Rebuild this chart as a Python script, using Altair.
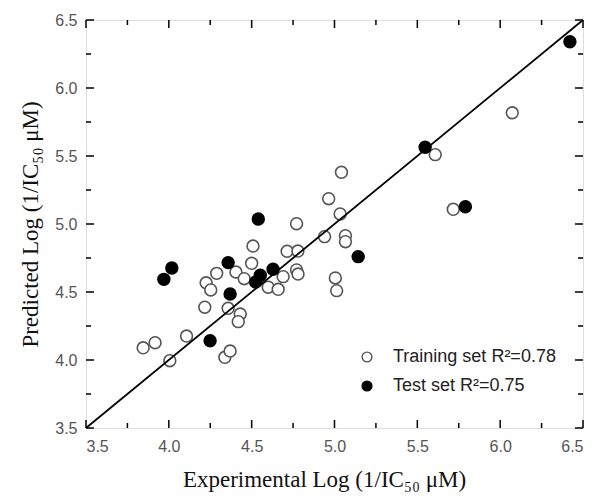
import altair as alt
import pandas as pd

# Data
train_x = [3.845, 3.917, 4.006, 4.107, 4.217, 4.225, 4.253, 4.289, 4.338, 4.370,
           4.358, 4.405, 4.431, 4.419, 4.455, 4.500, 4.508, 4.600, 4.660, 4.690,
           4.714, 4.779, 4.771, 4.780, 4.771, 4.940, 4.965, 5.005, 5.013, 5.034,
           5.042, 5.066, 5.066, 5.608, 5.717, 6.073]
train_y = [4.090, 4.127, 3.995, 4.176, 4.388, 4.568, 4.515, 4.637, 4.020, 4.066,
           4.380, 4.647, 4.338, 4.282, 4.598, 4.711, 4.838, 4.535, 4.520, 4.613,
           4.799, 4.801, 4.662, 4.632, 5.002, 4.907, 5.186, 4.603, 4.510, 5.074,
           5.380, 4.914, 4.870, 5.510, 5.108, 5.818]
test_x = [3.970, 4.018, 4.249, 4.358, 4.370, 4.524, 4.552, 4.629, 4.540, 5.143,
          5.547, 5.790, 6.421]
test_y = [4.593, 4.676, 4.142, 4.716, 4.485, 4.574, 4.623, 4.667, 5.037, 4.760,
          5.564, 5.127, 6.340]

set_names = ["Training set R\u00b2=0.78", "Test set R\u00b2=0.75"]
ident_line = [3.5, 6.5]
major_ticks = [3.5, 4.0, 4.5, 5.0, 5.5, 6.0, 6.5]
minor_ticks = [3.75, 4.25, 4.75, 5.25, 5.75, 6.25]

W, H = 497, 408

pts = pd.DataFrame({
    "x": train_x + test_x,
    "y": train_y + test_y,
    "set": [set_names[0]] * len(train_x) + [set_names[1]] * len(test_x),
})
line_df = pd.DataFrame({"x": ident_line, "y": ident_line})
major_df = pd.DataFrame({"v": major_ticks})
minor_df = pd.DataFrame({"v": minor_ticks})

xscale = alt.Scale(domain=[3.5, 6.5], nice=False, zero=False)
yscale = alt.Scale(domain=[3.5, 6.5], nice=False, zero=False)

xaxis = alt.Axis(values=major_ticks, format=".1f", grid=False, domain=False, ticks=False,
                 labelFontSize=16, labelColor="#555555", labelFont="Liberation Sans",
                 labelPadding=10, title="Experimental Log (1/IC\u2085\u2080 \u03bcM)",
                 titleFont="Liberation Serif", titleFontSize=23, titleFontWeight="normal",
                 titleColor="#111111", titlePadding=14, titleX=238, titleAlign="center")
yaxis = alt.Axis(values=major_ticks, format=".1f", grid=False, domain=False, ticks=False,
                 labelFontSize=16, labelColor="#555555", labelFont="Liberation Sans",
                 labelPadding=9, title="Predicted Log (1/IC\u2085\u2080 \u03bcM)",
                 titleFont="Liberation Serif", titleFontSize=23, titleFontWeight="normal",
                 titleColor="#111111", titlePadding=12)

leg = alt.Legend(title=None, orient="none", legendX=272, legendY=328,
                 labelFont="Liberation Sans", labelFontSize=18, labelLimit=0,
                 labelColor="#222222", symbolSize=95, rowPadding=11,
                 labelOffset=17, padding=0, symbolStrokeWidth=1.4)

points = alt.Chart(pts).mark_point(shape="circle", size=140, strokeWidth=1.6, opacity=1, filled=False).encode(
    x=alt.X("x:Q", scale=xscale, axis=xaxis),
    y=alt.Y("y:Q", scale=yscale, axis=yaxis),
    fill=alt.Fill("set:N", scale=alt.Scale(domain=set_names, range=["white", "black"]), legend=leg),
    stroke=alt.Stroke("set:N", scale=alt.Scale(domain=set_names, range=["#555555", "black"]), legend=leg),
)

diag = alt.Chart(line_df).mark_line(color="black", strokeWidth=1.8).encode(
    x=alt.X("x:Q", scale=xscale), y=alt.Y("y:Q", scale=yscale)
)

def ticks(df, length):
    bottom = alt.Chart(df).mark_rule(color="black", strokeWidth=1.5).encode(
        x=alt.X("v:Q", scale=xscale), y=alt.value(H), y2=alt.value(H - length))
    top = alt.Chart(df).mark_rule(color="black", strokeWidth=1.5).encode(
        x=alt.X("v:Q", scale=xscale), y=alt.value(0), y2=alt.value(length))
    left = alt.Chart(df).mark_rule(color="black", strokeWidth=1.5).encode(
        y=alt.Y("v:Q", scale=yscale), x=alt.value(0), x2=alt.value(length))
    right = alt.Chart(df).mark_rule(color="black", strokeWidth=1.5).encode(
        y=alt.Y("v:Q", scale=yscale), x=alt.value(W), x2=alt.value(W - length))
    return [bottom, top, left, right]

layers = ticks(major_df, 8) + ticks(minor_df, 5) + [points, diag]

chart = alt.layer(*layers).properties(
    width=W, height=H,
    autosize=alt.AutoSizeParams(type="none"),
    padding={"left": 78, "top": 12, "right": 5, "bottom": 71},
).configure_view(stroke="black", strokeWidth=2).configure(background="white")

chart.save("out.html", embed_options={"renderer": "svg", "actions": False})
